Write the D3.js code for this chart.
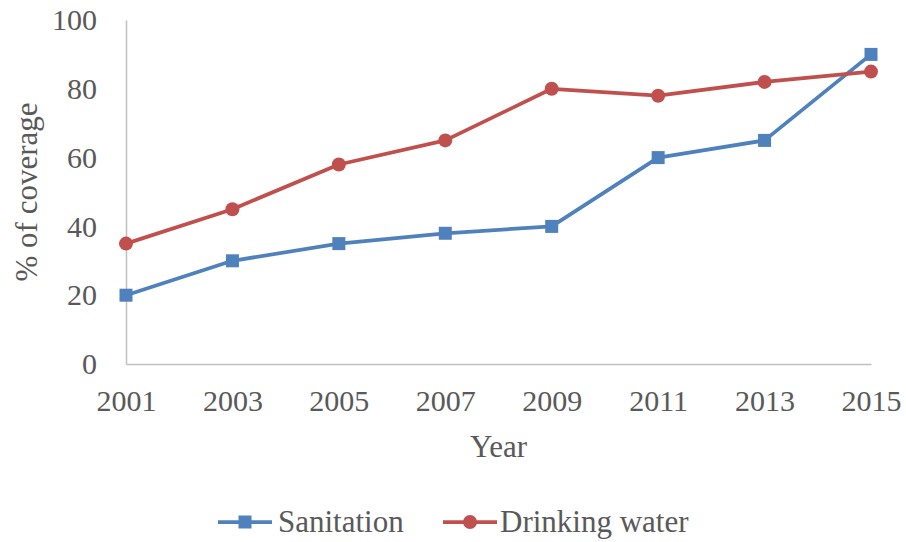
<!DOCTYPE html>
<html>
<head>
<meta charset="utf-8">
<script src="https://cdn.jsdelivr.net/npm/d3@7"></script>
<style>
  html, body { margin: 0; padding: 0; background: #fff; }
  svg { display: block; }
</style>
</head>
<body>
<svg id="chart" width="906" height="542" font-family="Liberation Serif"></svg>
<script>
// Coverage by year (%)
const years = [2001, 2003, 2005, 2007, 2009, 2011, 2013, 2015];
const sanitation = [20, 30, 35, 38, 40, 60, 65, 90];
const drinkingWater = [35, 45, 58, 65, 80, 78, 82, 85];
const yTicks = [0, 20, 40, 60, 80, 100];
const seriesNames = ["Sanitation", "Drinking water"];
const seriesColors = ["#4f81bd", "#c0504d"];

const FONT = "Liberation Serif";
const TEXT_COLOR = "#595959";

const svg = d3.select("#chart");
const margin = { left: 126, right: 35, top: 20, bottom: 178 };
const W = 906, H = 542;

const x = d3.scalePoint().domain(years).range([margin.left, W - margin.right]);
const y = d3.scaleLinear().domain([0, 100]).range([H - margin.bottom, margin.top]);

const axisColor = "#bfbfbf";

function styleText(sel, size = 30) {
  sel.attr("font-family", FONT)
     .style("font-family", `"${FONT}"`)
     .attr("font-size", size)
     .attr("fill", TEXT_COLOR);
}

// Y axis
const yAxis = svg.append("g")
  .attr("transform", `translate(${margin.left},0)`)
  .call(d3.axisLeft(y).tickValues(yTicks).tickSize(0).tickPadding(29));
yAxis.attr("font-family", FONT).attr("font-size", 30);
yAxis.select(".domain").attr("stroke", axisColor).attr("stroke-width", 1.5);
styleText(yAxis.selectAll("text"));

// X axis
const xAxis = svg.append("g")
  .attr("transform", `translate(0,${y(0)})`)
  .call(d3.axisBottom(x).tickSize(0).tickPadding(26).tickFormat(d3.format("d")));
xAxis.attr("font-family", FONT).attr("font-size", 30);
xAxis.select(".domain").attr("stroke", axisColor).attr("stroke-width", 1.5);
styleText(xAxis.selectAll("text"));

// Axis titles
svg.append("text")
  .attr("x", (margin.left + W - margin.right) / 2)
  .attr("y", 457)
  .attr("text-anchor", "middle")
  .text("Year")
  .call(styleText, 31);

svg.append("text")
  .attr("transform", `translate(37,${(y(0) + y(100)) / 2}) rotate(-90)`)
  .attr("text-anchor", "middle")
  .text("% of coverage")
  .call(styleText, 31);

// Series lines and markers
const seriesData = [sanitation, drinkingWater];
const line = d3.line().x((d, i) => x(years[i])).y(d => y(d));

seriesData.forEach((vals, si) => {
  svg.append("path")
    .datum(vals)
    .attr("fill", "none")
    .attr("stroke", seriesColors[si])
    .attr("stroke-width", 3.75)
    .attr("stroke-linejoin", "round")
    .attr("d", line);
});

function drawMarker(g, kind, cx, cy, color) {
  if (kind === 0) {
    g.append("rect")
      .attr("x", cx - 6.5).attr("y", cy - 6.5)
      .attr("width", 13).attr("height", 13)
      .attr("fill", color);
  } else {
    g.append("circle")
      .attr("cx", cx).attr("cy", cy).attr("r", 7)
      .attr("fill", color);
  }
}

seriesData.forEach((vals, si) => {
  const g = svg.append("g");
  vals.forEach((v, i) => drawMarker(g, si, x(years[i]), y(v), seriesColors[si]));
});

// Legend
const legendY = 522;
const legendItems = [
  { x0: 218, textX: 278 },
  { x0: 443, textX: 500 }
];
legendItems.forEach((it, si) => {
  const g = svg.append("g");
  g.append("line")
    .attr("x1", it.x0).attr("x2", it.x0 + 54)
    .attr("y1", legendY).attr("y2", legendY)
    .attr("stroke", seriesColors[si]).attr("stroke-width", 3.75);
  drawMarker(g, si, it.x0 + 27, legendY, seriesColors[si]);
  g.append("text")
    .attr("x", it.textX).attr("y", 532)
    .text(seriesNames[si])
    .call(styleText, 31);
});
</script>
</body>
</html>
